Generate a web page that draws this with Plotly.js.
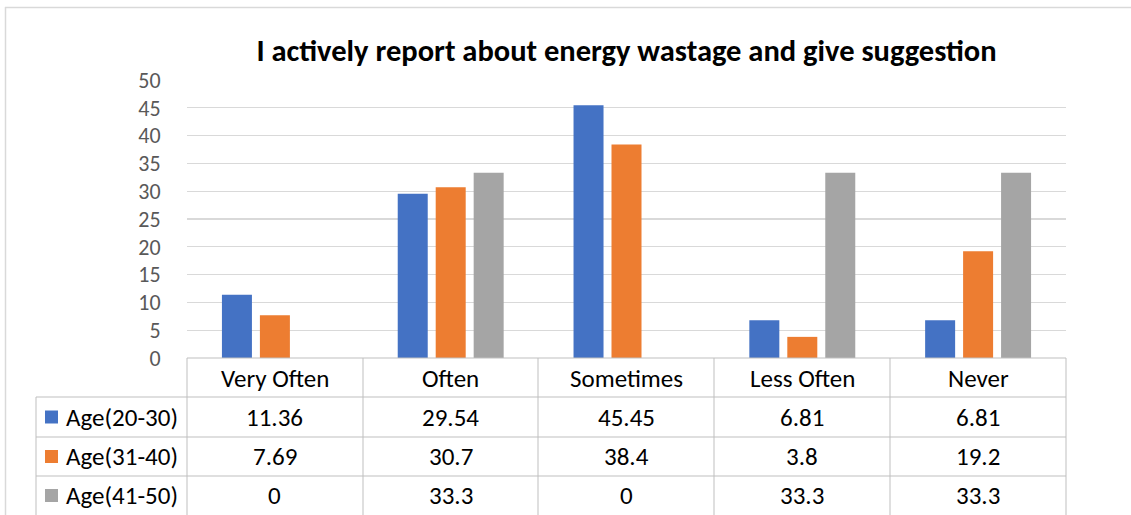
<!DOCTYPE html>
<html>
<head>
<meta charset="utf-8">
<script src="https://cdn.plot.ly/plotly-3.0.1.min.js"></script>
<style>html,body{margin:0;padding:0;background:#fff;}#chart{width:1131px;height:515px;}</style>
</head>
<body>
<div id="chart"></div>
<script>
const categories = ["Very Often", "Often", "Sometimes", "Less Often", "Never"];
const seriesNames = ["Age(20-30)", "Age(31-40)", "Age(41-50)"];
const age20_30 = [11.36, 29.54, 45.45, 6.81, 6.81];
const age31_40 = [7.69, 30.7, 38.4, 3.8, 19.2];
const age41_50 = [0, 33.3, 0, 33.3, 33.3];
const colors = ["#4472C4", "#ED7D31", "#A5A5A5"];
const seriesValues = [age20_30, age31_40, age41_50];

const FONT = "Calibri, Carlito, Lato, 'Open Sans', sans-serif";
const W = 1131, H = 515;
const L = 187, R = 1066, T = 80, B = 358;
const px = X => (X - L) / (R - L);
const py = Y => (B - Y) / (B - T);

const traces = seriesValues.map((vals, i) => ({
  type: "bar",
  name: seriesNames[i],
  x: categories,
  y: vals,
  marker: { color: colors[i] },
  hoverinfo: "x+y+name"
}));

const lineColor = "#BFBFBF";
const shapes = [];
const annotations = [];
function hline(x0, x1, y) {
  shapes.push({ type: "line", xref: "paper", yref: "paper", x0: px(x0), x1: px(x1), y0: py(y), y1: py(y), line: { color: lineColor, width: 1 } });
}
function vline(x, y0, y1) {
  shapes.push({ type: "line", xref: "paper", yref: "paper", x0: px(x), x1: px(x), y0: py(y0), y1: py(y1), line: { color: lineColor, width: 1 } });
}
// outer chart border (top and left)
shapes.push({ type: "line", xref: "paper", yref: "paper", x0: px(5), x1: px(1131), y0: py(7.5), y1: py(7.5), line: { color: "#D9D9D9", width: 1.5 } });
shapes.push({ type: "line", xref: "paper", yref: "paper", x0: px(5.5), x1: px(5.5), y0: py(7), y1: py(515), line: { color: "#D9D9D9", width: 1.5 } });

// table grid
const colX = [187, 363, 538, 714, 890, 1066];
hline(187, 1066, 358);
hline(36, 1066, 397);
hline(36, 1066, 437);
hline(36, 1066, 476);
vline(36, 397, 520);
colX.forEach(x => vline(x, 358, 520));

const cellFont = { family: FONT, size: 25, color: "#000" };
// header row: categories
categories.forEach((c) => {
  annotations.push({ xref: "x", yref: "paper", x: c, y: py(378), text: c, showarrow: false,
    xanchor: "center", yanchor: "middle", font: cellFont });
});
// series rows
const rowCenters = [417, 456.5, 495.5];
seriesValues.forEach((vals, i) => {
  const ycen = rowCenters[i];
  shapes.push({ type: "rect", xref: "paper", yref: "paper", x0: px(45), x1: px(58), y0: py(ycen - 6.5), y1: py(ycen + 6.5),
    fillcolor: colors[i], line: { width: 0 } });
  annotations.push({ xref: "paper", yref: "paper", x: px(64), y: py(ycen), text: seriesNames[i], showarrow: false,
    xanchor: "left", yanchor: "middle", font: cellFont });
  vals.forEach((v, j) => {
    annotations.push({ xref: "x", yref: "paper", x: categories[j], y: py(ycen), text: String(v), showarrow: false,
      xanchor: "center", yanchor: "middle", font: cellFont });
  });
});

const layout = {
  width: W, height: H,
  margin: { l: L, r: W - R, t: T, b: H - B, pad: 0 },
  paper_bgcolor: "#fff", plot_bgcolor: "#fff",
  showlegend: false,
  barmode: "group",
  bargap: 0.352,
  bargroupgap: 0.21,
  title: { text: "<b>I actively report about energy wastage and give suggestion</b>",
    font: { family: FONT, size: 30.5, color: "#000" },
    xref: "paper", x: 0.5, xanchor: "center", yref: "container", y: 1 - 50 / H, yanchor: "middle" },
  xaxis: { type: "category", range: [-0.5, 4.5], showticklabels: false, showgrid: false, zeroline: false, showline: false, ticks: "" },
  yaxis: { range: [0, 50], dtick: 5, tick0: 0, showgrid: true, gridcolor: "#D9D9D9", gridwidth: 1.3, zeroline: false, showline: false,
    ticks: "outside", ticklen: 21, tickcolor: "rgba(0,0,0,0)",
    tickfont: { family: FONT, size: 22, color: "#595959" } },
  shapes: shapes,
  annotations: annotations
};

Plotly.newPlot("chart", traces, layout, { staticPlot: true, displayModeBar: false });
</script>
</body>
</html>
